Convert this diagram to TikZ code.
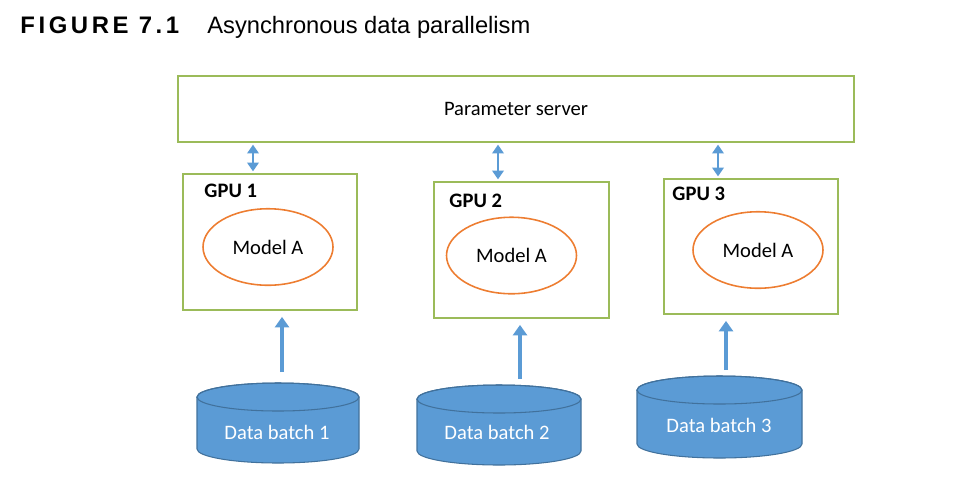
\documentclass[tikz,border=0pt]{standalone}
\usepackage{fontspec}
\setmainfont{Carlito}
\newfontfamily\capfont{Liberation Sans}
\newfontfamily\figfont[LetterSpace=15]{Liberation Sans}
\usepackage{tikz}
\usetikzlibrary{arrows.meta, shapes.geometric}

\definecolor{boxgreen}{HTML}{9BBB59}
\definecolor{modelorange}{HTML}{ED7D31}
\definecolor{flowblue}{HTML}{5B9BD5}
\definecolor{dbedge}{HTML}{41719C}

\begin{document}
\begin{tikzpicture}[
    box/.style={draw=boxgreen, line width=1pt, inner sep=0pt},
    gpulabel/.style={anchor=west, inner sep=0pt, font=\bfseries\fontsize{11.7}{14}\selectfont},
    model/.style={ellipse, draw=modelorange, line width=0.9pt, minimum width=2.6cm, minimum height=1.53cm, inner sep=0pt, font=\fontsize{11.7}{14}\selectfont},
    syncarrow/.style={draw=flowblue, line width=1.4pt, {Triangle[length=5pt,width=6.5pt]}-{Triangle[length=5pt,width=6.5pt]}, shorten <=1pt, shorten >=1pt},
    feedarrow/.style={draw=flowblue, line width=2.1pt, -{Triangle[length=6pt,width=8pt]}, shorten >=0.12cm},
    dbbody/.style={fill=flowblue, draw=dbedge, line width=0.6pt},
    dblabel/.style={text=white, font=\fontsize{11.7}{14}\selectfont}
]
    \useasboundingbox (0,0) rectangle (19.52,-9.86);

    % caption line
    \node[anchor=base west, inner sep=0pt, font=\figfont\bfseries\fontsize{13.6}{16}\selectfont] (fignum) at (0.4,-0.66) {FIGURE 7.1};
    \node[anchor=base west, inner sep=0pt, font=\capfont\fontsize{13.5}{16}\selectfont] (figcap) at (4.14,-0.66) {Asynchronous data parallelism};

    % server on top
    \node[box, minimum width=13.52cm, minimum height=1.32cm, font=\fontsize{11.7}{14}\selectfont] (psrv) at (10.32,-2.18) {Parameter server};

    % the three workers
    \node[box, minimum width=3.48cm, minimum height=2.72cm] (gpu1) at (5.40,-4.84) {};
    \node[gpulabel] (gpulab1) at ([xshift=0.44cm, yshift=-0.36cm]gpu1.north west) {GPU 1};
    \node[model] (model1) at (5.36,-4.94) {Model A};

    \node[box, minimum width=3.50cm, minimum height=2.72cm] (gpu2) at (10.43,-5.00) {};
    \node[gpulabel] (gpulab2) at ([xshift=0.32cm, yshift=-0.40cm]gpu2.north west) {GPU 2};
    \node[model] (model2) at (10.23,-5.11) {Model A};

    \node[box, minimum width=3.48cm, minimum height=2.70cm] (gpu3) at (15.02,-4.93) {};
    \node[gpulabel] (gpulab3) at ([xshift=0.18cm, yshift=-0.32cm]gpu3.north west) {GPU 3};
    \node[model] (model3) at (15.16,-5.00) {Model A};

    % exchange with the server
    \draw[syncarrow] ([xshift=-0.34cm]gpu1.north) -- ([xshift=-0.34cm]gpu1.north |- psrv.south);
    \draw[syncarrow] ([xshift=-0.47cm]gpu2.north) -- ([xshift=-0.47cm]gpu2.north |- psrv.south);
    \draw[syncarrow] ([xshift=-0.66cm]gpu3.north) -- ([xshift=-0.66cm]gpu3.north |- psrv.south);

    % data batches
    \draw[dbbody] (3.94,-7.94) -- (3.94,-8.98) arc[start angle=180, end angle=360, x radius=1.62cm, y radius=0.28cm]
        -- (7.18,-7.94) arc[start angle=0, end angle=180, x radius=1.62cm, y radius=0.28cm] -- cycle;
    \draw[dbedge, line width=0.6pt] (5.56,-7.94) ellipse [x radius=1.62cm, y radius=0.28cm];
    \node[dblabel] (db1) at (5.54,-8.64) {Data batch 1};

    \draw[dbbody] (8.34,-7.98) -- (8.34,-9.02) arc[start angle=180, end angle=360, x radius=1.64cm, y radius=0.28cm]
        -- (11.62,-7.98) arc[start angle=0, end angle=180, x radius=1.64cm, y radius=0.28cm] -- cycle;
    \draw[dbedge, line width=0.6pt] (9.98,-7.98) ellipse [x radius=1.64cm, y radius=0.28cm];
    \node[dblabel] (db2) at (9.94,-8.64) {Data batch 2};

    \draw[dbbody] (12.74,-7.80) -- (12.74,-8.88) arc[start angle=180, end angle=360, x radius=1.65cm, y radius=0.28cm]
        -- (16.04,-7.80) arc[start angle=0, end angle=180, x radius=1.65cm, y radius=0.28cm] -- cycle;
    \draw[dbedge, line width=0.6pt] (14.39,-7.80) ellipse [x radius=1.65cm, y radius=0.28cm];
    \node[dblabel] (db3) at (14.38,-8.50) {Data batch 3};

    % feeding the workers
    \coordinate (feed1) at (5.64,-7.44);
    \coordinate (feed2) at (10.40,-7.58);
    \coordinate (feed3) at (14.52,-7.40);
    \draw[feedarrow] (feed1) -- (feed1 |- gpu1.south);
    \draw[feedarrow] (feed2) -- (feed2 |- gpu2.south);
    \draw[feedarrow] (feed3) -- (feed3 |- gpu3.south);
\end{tikzpicture}
\end{document}
